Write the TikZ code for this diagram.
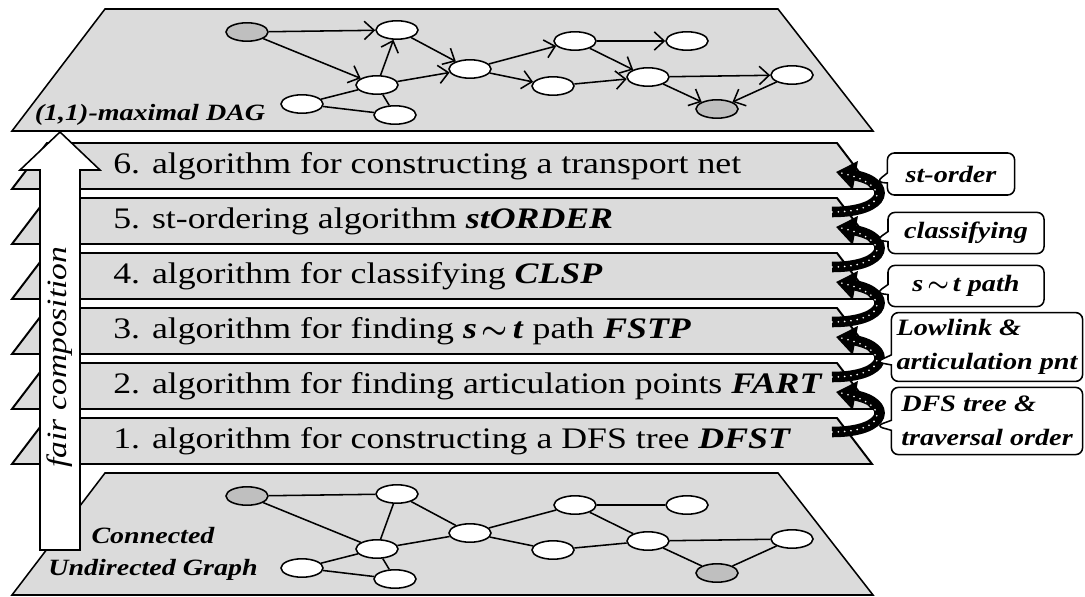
\documentclass[tikz,border=0pt]{standalone}
\usepackage{amsmath}
\usepackage{fontspec}
\setmainfont{Liberation Serif}[FakeStretch=1.2]
\usepackage{xcolor}
\definecolor{slabgray}{gray}{0.86}
\definecolor{markgray}{gray}{0.75}
\usetikzlibrary{arrows.meta}
\usetikzlibrary{positioning,shapes.geometric,shapes.callouts}

\newcommand\algfont{\fontsize{21.2}{25}\selectfont}
\newcommand\notefont{\fontsize{16.7}{24.2}\selectfont\bfseries\itshape}
\newcommand\labfont{\fontsize{16.6}{22.8}\selectfont\bfseries\itshape}
\newcommand\algname[1]{\textbf{\textit{#1}}}
\newcommand\bsim{\,$\boldsymbol{\sim}$\,}

\tikzset{
  plane/.style={draw=black,line width=1.1pt,fill=slabgray},
  slab/.style={draw=black,line width=1.4pt,fill=slabgray},
  vert/.style={ellipse,draw=black,line width=1.1pt,fill=white,
    minimum width=1.05cm,minimum height=0.46cm,inner sep=0pt},
  src/.style={vert,fill=markgray},
  dag/.style={-{Straight Barb[length=7pt,width=13pt]},line width=1.1pt},
  link/.style={-,line width=1.1pt},
  algo/.style={anchor=west,inner sep=0pt,font=\algfont},
  hop/.style={line width=7.5pt,-{Triangle[length=14pt,width=20pt]}},
  hopdots/.style={white,line width=1.3pt,line cap=round,dash pattern=on 0pt off 4.5pt},
  note/.style={rectangle callout,draw=black,line width=1.1pt,fill=white,
    rounded corners=5pt,inner sep=2pt,font=\notefont},
  upshaft/.style={draw=black,line width=1.1pt,fill=white}
}

\begin{document}
\begin{tikzpicture}[x=0.025cm,y=-0.025cm]
    \useasboundingbox (0,0) rectangle (1085,597);

    % the two graph planes
    \filldraw[plane] (105,9) -- (778,9) -- (873,131) -- (12,131) -- cycle;
    \filldraw[plane] (105,473) -- (778,473) -- (873,595) -- (12,595) -- cycle;

    % algorithm layers
    \foreach \t in {143,198,253,308,363,418}
        \filldraw[slab] (47,\t) -- (837,\t) -- (872,\t+46) -- (12,\t+46) -- cycle;

    \node[algo] (alg6) at (113,166) {6. algorithm for constructing a transport net};
    \node[algo] (alg5) at (113,221) {5. st-ordering algorithm \algname{stORDER}};
    \node[algo] (alg4) at (113,276) {4. algorithm for classifying \algname{CLSP}};
    \node[algo] (alg3) at (113,331) {3. algorithm for finding \algname{s}\bsim\algname{t} path \algname{FSTP}};
    \node[algo] (alg2) at (113,386) {2. algorithm for finding articulation points \algname{FART}};
    \node[algo] (alg1) at (113,441) {1. algorithm for constructing a DFS tree \algname{DFST}};

    % graphs
    \foreach \n/\x/\y/\s in {a/247/32/src,b/397/30/vert,c/377/85/vert,d/302/104/vert,
        e/395/115/vert,f/470/69/vert,g/575/41/vert,h/687/41/vert,i/553/86/vert,
        j/648/77/vert,k/792/75/vert,l/717/109/src} {
        \node[\s] (t\n) at (\x,\y) {};
        \node[\s] (b\n) at (\x,\y+464) {};
    }

    \path[dag]  (ta) edge (tb)
                (ta) edge (tc)
                (tc) edge (tb)
                (tc) edge (tf)
                (tb) edge (tf)
                (tf) edge (tg)
                (tf) edge (ti)
                (tg) edge (th)
                (tg) edge (tj)
                (ti) edge (tj)
                (tj) edge (tk)
                (tj) edge (tl)
                (tk) edge (tl);
    \path[link] (td) edge (tc)
                (td) edge (te)
                (tc) edge (te);

    \path[link] (ba) edge (bb)
                (ba) edge (bc)
                (bc) edge (bb)
                (bc) edge (bf)
                (bb) edge (bf)
                (bf) edge (bg)
                (bf) edge (bi)
                (bg) edge (bh)
                (bg) edge (bj)
                (bi) edge (bj)
                (bj) edge (bk)
                (bj) edge (bl)
                (bk) edge (bl)
                (bd) edge (bc)
                (bd) edge (be)
                (bc) edge (be);

    \node[font=\labfont] (dag) at (150,115) {(1,1)-maximal DAG};
    \node[font=\labfont,align=center] (ug) at (153,554) {Connected\\Undirected Graph};

    % fair composition arrow
    \filldraw[upshaft] (40,550) -- (40,170) -- (20,170) -- (60,132) -- (100,170) -- (80,170) -- (80,550) -- cycle;
    \node[rotate=90,font=\fontsize{19.9}{24}\selectfont\itshape] (fair) at (60,357) {fair composition};

    % passing results upwards
    \foreach \k/\t in {1/418,2/363,3/308,4/253,5/198} {
        \coordinate (out\k) at (832,\t+14);
        \coordinate (in\k) at (836,\t-26);
        \draw[hop] (out\k) .. controls +(58,0) and +(56,10) .. (in\k);
        \draw[hopdots] (out\k) .. controls +(58,0) and +(56,10) .. (in\k);
    }

    \coordinate (p5) at (876,182);
    \coordinate (p4) at (876,240);
    \coordinate (p3) at (876,293);
    \coordinate (p2) at (876,362);
    \coordinate (p1) at (876,426);

    \node[note,minimum width=3.18cm,minimum height=1.05cm,callout absolute pointer={(p5)}] (n5) at (951,174) {st-order};
    \node[note,minimum width=3.9cm,minimum height=1.03cm,callout absolute pointer={(p4)}] (n4) at (966,233) {classifying};
    \node[note,minimum width=3.9cm,minimum height=1.03cm,callout absolute pointer={(p3)}] (n3) at (966,286) {\algname{s}\bsim\algname{t} path};
    \node[note,minimum width=4.78cm,minimum height=1.72cm,align=left,callout absolute pointer={(p2)}] (n2) at (987,347) {Lowlink \&\\articulation pnt};
    \node[note,minimum width=4.78cm,minimum height=1.68cm,align=left,callout absolute pointer={(p1)}] (n1) at (987,421) {DFS tree \&\\traversal order};
\end{tikzpicture}
\end{document}
